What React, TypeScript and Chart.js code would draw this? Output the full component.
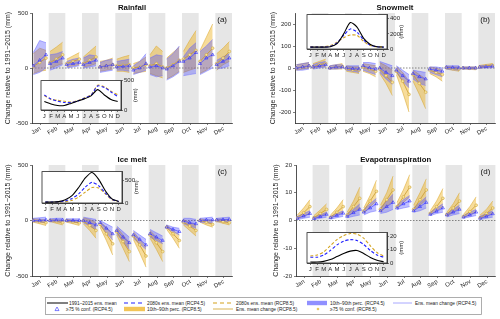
import React, { useEffect, useRef } from "react";
import { Chart, registerables } from "chart.js";
Chart.register(...registerables);

const FONT = 'Arial, "Liberation Sans", Helvetica, sans-serif';
Chart.defaults.font.family = FONT;
Chart.defaults.color = "#262626";

const months = ["Jan", "Feb", "Mar", "Apr", "May", "Jun", "Jul", "Aug", "Sep", "Oct", "Nov", "Dec"];
const insetLabels = ["J", "F", "M", "A", "M", "J", "J", "A", "S", "O", "N", "D"];
const yTitle = "Change relative to 1991\u22122015 (mm)";

// ---------- Rainfall (mm), per month: [early, mid, late] ----------
const rain45Lo = [[-60, -40, 0], [-20, 0, 30], [0, 10, 20], [0, 10, 20], [-40, -30, -20], [-20, -20, -30], [-60, -40, -20], [-60, -80, -70], [-110, -80, -40], [-70, -60, -50], [-60, -30, 0], [-10, 0, 20]];
const rain45Hi = [[140, 250, 230], [120, 130, 150], [60, 80, 90], [90, 120, 110], [50, 70, 80], [60, 70, 80], [20, 60, 130], [90, 120, 110], [80, 130, 200], [100, 180, 230], [150, 200, 260], [70, 100, 130]];
const rain45Mean = [[20, 70, 120], [40, 60, 90], [30, 40, 50], [30, 50, 70], [10, 20, 30], [10, 15, 20], [-20, 0, 40], [10, 20, 0], [-10, 20, 60], [60, 90, 140], [40, 90, 120], [30, 60, 90]];
const rain85Lo = [[-50, -30, -20], [0, 20, 40], [10, 20, 30], [10, 20, 40], [-30, -20, -10], [-30, -30, -40], [-50, -40, -30], [-50, -70, -90], [-100, -70, -30], [-40, -20, 0], [-50, -20, 30], [-20, 30, 60]];
const rain85Hi = [[130, 180, 160], [150, 190, 235], [80, 110, 140], [100, 150, 200], [60, 70, 90], [80, 100, 115], [40, 60, 100], [120, 200, 150], [90, 140, 190], [150, 250, 340], [160, 280, 400], [130, 180, 240]];
const rain85Mean = [[15, 50, 90], [50, 80, 120], [40, 60, 80], [40, 70, 100], [10, 20, 30], [20, 25, 30], [0, 10, 30], [20, 40, 10], [0, 30, 70], [80, 120, 160], [60, 120, 180], [40, 90, 150]];
const rainBase = [143, 102, 77, 77, 112, 153, 189, 240, 347, 255, 179, 143];
const rainFut45 = [255, 189, 150, 128, 128, 153, 200, 250, 408, 383, 306, 230];
const rainFut85 = [245, 180, 165, 150, 135, 160, 205, 255, 420, 395, 320, 260];

// ---------- Snowmelt ----------
const snow45Lo = [[-10, -10, -5], [-5, 0, 5], [-5, -5, 0], [-10, -15, -20], [-10, -20, -30], [-20, -50, -75], [-20, -60, -90], [-50, -70, -80], [-20, -30, -40], [-5, -8, -10], [-5, -5, -5], [0, 0, 0]];
const snow45Hi = [[15, 20, 25], [15, 25, 30], [10, 15, 15], [10, 10, 10], [25, 25, 20], [30, 20, 10], [10, -10, -30], [-10, -15, -20], [5, 5, 0], [10, 10, 10], [5, 5, 5], [10, 12, 15]];
const snow45Mean = [[0, 5, 10], [5, 10, 15], [0, 5, 5], [0, -3, -5], [10, 0, -5], [0, -20, -35], [-10, -35, -60], [-25, -40, -50], [-5, -10, -15], [3, 2, 0], [0, 0, 0], [4, 6, 8]];
const snow85Lo = [[-10, -5, 0], [0, 5, 5], [-5, -5, -5], [-15, -20, -25], [-15, -25, -40], [-25, -70, -125], [-30, -110, -200], [-60, -120, -185], [-25, -40, -60], [-5, -10, -15], [-5, -6, -8], [0, 2, 3]];
const snow85Hi = [[15, 20, 25], [20, 30, 40], [10, 15, 20], [10, 5, 5], [20, 15, 10], [25, 10, -10], [5, -20, -60], [-10, -30, -50], [5, 0, -10], [8, 5, 5], [5, 5, 5], [12, 16, 20]];
const snow85Mean = [[0, 5, 10], [5, 15, 20], [0, 5, 8], [-3, -8, -10], [5, -5, -15], [-5, -35, -65], [-15, -60, -120], [-30, -70, -110], [-10, -20, -30], [2, -2, -5], [0, -1, -1], [5, 9, 13]];
const snowBase = [25, 25, 25, 30, 70, 200, 350, 290, 140, 60, 30, 25];
const snowFut45 = [25, 25, 25, 35, 80, 180, 265, 225, 120, 50, 30, 25];
const snowFut85 = [30, 30, 30, 45, 90, 150, 185, 180, 100, 45, 30, 28];

// ---------- Ice melt ----------
const ice45Lo = [[-10, -15, -20], [-10, -12, -15], [-10, -15, -20], [-20, -50, -80], [-40, -110, -175], [-120, -190, -260], [-160, -210, -260], [-150, -180, -210], [-70, -100, -130], [-30, -50, -70], [-15, -20, -25], [-10, -10, -10]];
const ice45Hi = [[20, 25, 30], [15, 20, 20], [15, 15, 15], [30, 20, 10], [0, -30, -60], [-50, -100, -150], [-90, -130, -170], [-80, -110, -140], [-40, -60, -70], [20, 20, 10], [20, 25, 30], [20, 25, 30]];
const ice45Mean = [[0, 0, 5], [0, 3, 5], [0, 0, 0], [0, -20, -40], [-20, -70, -120], [-90, -150, -200], [-130, -170, -220], [-120, -150, -180], [-60, -80, -100], [-5, -20, -30], [0, 5, 5], [5, 8, 10]];
const ice85Lo = [[-15, -30, -45], [-10, -25, -40], [-15, -30, -45], [-30, -90, -160], [-60, -180, -310], [-130, -250, -370], [-170, -290, -420], [-160, -260, -370], [-80, -160, -250], [-40, -90, -140], [-15, -40, -60], [-10, -25, -40]];
const ice85Hi = [[15, 10, 5], [10, 5, 0], [10, 5, 0], [25, 10, -20], [-10, -60, -120], [-60, -130, -200], [-100, -170, -240], [-90, -150, -210], [-40, -90, -130], [10, -20, -40], [15, 5, 0], [15, 10, 5]];
const ice85Mean = [[0, -10, -20], [0, -8, -18], [-2, -12, -22], [-5, -45, -90], [-35, -120, -210], [-100, -190, -280], [-140, -220, -320], [-130, -200, -280], [-60, -120, -180], [-15, -50, -90], [0, -15, -35], [0, -10, -20]];
const iceBase = [20, 20, 30, 70, 160, 340, 550, 670, 520, 270, 90, 35];
const iceFut45 = [20, 20, 25, 45, 100, 200, 350, 455, 380, 220, 80, 35];
const iceFut85 = [15, 15, 20, 30, 60, 130, 240, 340, 330, 200, 70, 30];

// ---------- Evapotranspiration ----------
const et45Lo = [[0.3, 0.8, 1.2], [0.3, 0.8, 1.2], [0.5, 1, 1.5], [1, 1.5, 2], [2, 3, 3.5], [2.5, 3, 4], [4, 4.5, 5], [3, 3.5, 4.5], [1.8, 2.5, 3], [1.3, 2, 2.5], [0.8, 1.3, 1.8], [0.4, 0.8, 1.2]];
const et45Hi = [[1.5, 2.5, 3.5], [1.2, 2, 3], [1.5, 2.5, 3.5], [2.5, 4, 6], [4, 6, 8], [4.5, 7, 9.5], [5.5, 7.5, 9], [4.5, 6.5, 8.5], [3, 4.5, 6], [2.5, 4, 5.5], [1.8, 3, 4], [1.5, 2.5, 3.5]];
const et45Mean = [[0.8, 1.6, 2.5], [0.7, 1.4, 2.2], [1, 1.8, 2.6], [1.5, 2.8, 4], [3, 4.5, 6], [3.5, 5, 6.5], [4.5, 6, 7], [3.5, 5, 6.5], [2.2, 3.3, 4.5], [2, 3, 4], [1.2, 2, 3], [0.8, 1.5, 2.4]];
const et85Lo = [[0.5, 1.5, 2.5], [0.5, 1.5, 2.5], [0.8, 2, 3], [1.5, 3, 4.5], [2.5, 5, 7], [3, 5, 7], [4.5, 6.5, 8.5], [3.5, 5.5, 7.5], [2, 3.5, 5], [1.5, 3, 4.5], [1, 2, 3], [0.6, 1.5, 2.5]];
const et85Hi = [[2, 4.5, 7.5], [1.8, 3.8, 6], [2, 4.5, 7.5], [3, 7, 12], [4.5, 9, 14.5], [5.5, 10, 16], [6.5, 11, 16.5], [5.5, 10, 15], [3.5, 7, 11.5], [3, 6, 10], [2.2, 5, 8.5], [2, 4, 7]];
const et85Mean = [[1, 2.8, 5], [1, 2.5, 4], [1.2, 3, 5], [2, 5, 8], [3.5, 7, 10.5], [4, 7.5, 11], [5, 8.5, 12], [4, 7.5, 11], [2.6, 5, 8], [2.2, 4.5, 7], [1.5, 3.2, 5.5], [1, 2.5, 4.5]];
const etBase = [0.7, 0.7, 1.2, 2.6, 4.9, 7.2, 9, 9.5, 7.2, 4.2, 2.1, 0.9];
const etFut45 = [4.4, 4.4, 6, 9.5, 13.7, 16.5, 17.7, 17, 14, 9.5, 6, 4.4];
const etFut85 = [5.3, 6, 8.4, 13, 17.7, 20.7, 22.3, 21.8, 18.8, 13, 7.9, 5.3];

// ---------- styling ----------
const X_FRAC = [0.08, 0.46, 0.84];
const Y_FILL = "rgba(237,177,32,0.45)";
const Y_EDGE = "rgba(214,166,50,0.9)";
const B_FILL = "rgba(70,70,255,0.35)";
const B_EDGE = "rgba(120,120,255,0.9)";
const GREY = "#e6e6e6";
const AX = "#262626";

const pts = (arr: number[][], m: number) => arr[m].map((v, k) => ({ x: m + X_FRAC[k], y: v }));

function mainConfig(p: any) {
  const datasets: any[] = [];
  for (let m = 0; m < 12; m++) {
    datasets.push({ data: pts(p.lo85, m), fill: "+1", backgroundColor: Y_FILL, borderColor: Y_EDGE, borderWidth: 0.6, pointRadius: 0, order: 4 });
    datasets.push({ data: pts(p.hi85, m), fill: false, borderColor: Y_EDGE, borderWidth: 0.6, pointRadius: 0, order: 4 });
  }
  for (let m = 0; m < 12; m++) {
    datasets.push({ data: pts(p.lo45, m), fill: "+1", backgroundColor: B_FILL, borderColor: B_EDGE, borderWidth: 0.6, pointRadius: 0, order: 3 });
    datasets.push({ data: pts(p.hi45, m), fill: false, borderColor: B_EDGE, borderWidth: 0.6, pointRadius: 0, order: 3 });
  }
  for (let m = 0; m < 12; m++) {
    datasets.push({ data: pts(p.mean85, m), fill: false, borderColor: "#c99a2e", borderWidth: 0.8, pointStyle: "circle", pointRadius: 1.4, pointBorderWidth: 0.5, pointBorderColor: "#c99a2e", pointBackgroundColor: "#f6e39a", order: 2 });
    datasets.push({ data: pts(p.mean45, m), fill: false, borderColor: "#5b5bff", borderWidth: 0.8, pointStyle: "triangle", pointRadius: 1.8, pointBorderWidth: 0.6, pointBorderColor: "#2a2aff", pointBackgroundColor: "rgba(0,0,0,0)", order: 1 });
  }
  const deco = {
    id: "deco",
    beforeDraw(chart: any) {
      const { ctx, chartArea: a, scales } = chart;
      const x = scales.x;
      ctx.save();
      ctx.fillStyle = GREY;
      for (let m = 1; m < 12; m += 2) {
        const x0 = x.getPixelForValue(m);
        const x1 = x.getPixelForValue(m + 1);
        ctx.fillRect(x0, a.top, x1 - x0, a.bottom - a.top);
      }
      ctx.restore();
    },
    beforeDatasetsDraw(chart: any) {
      const { ctx, chartArea: a, scales } = chart;
      const y0 = scales.y.getPixelForValue(0);
      ctx.save();
      ctx.strokeStyle = "#555";
      ctx.lineWidth = 0.7;
      ctx.setLineDash([1.5, 1.5]);
      ctx.beginPath();
      ctx.moveTo(a.left, y0);
      ctx.lineTo(a.right, y0);
      ctx.stroke();
      ctx.restore();
    },
    afterDraw(chart: any) {
      const { ctx, chartArea: a } = chart;
      ctx.save();
      ctx.fillStyle = "#111";
      ctx.font = `bold 7.8px ${FONT}`;
      ctx.textAlign = "center";
      ctx.textBaseline = "middle";
      ctx.fillText(p.title, (a.left + a.right) / 2, a.top - 5);
      ctx.font = `8px ${FONT}`;
      ctx.textAlign = "right";
      ctx.fillText(p.letter, a.right - 5, a.top + 7);
      ctx.restore();
    },
  };
  return {
    type: "line",
    data: { datasets },
    options: {
      responsive: false,
      animation: false,
      devicePixelRatio: 1,
      layout: { padding: { left: p.padLeft, right: p.padRight, top: p.padTop, bottom: 0 } },
      elements: { line: { tension: 0 } },
      plugins: { legend: { display: false }, tooltip: { enabled: false } },
      scales: {
        x: {
          type: "linear",
          min: 0,
          max: 12,
          afterBuildTicks: (s: any) => {
            s.ticks = months.map((_, i) => ({ value: i + 0.5 }));
          },
          afterFit: (s: any) => {
            s.height = 17;
          },
          ticks: { autoSkip: false, minRotation: 30, maxRotation: 30, font: { size: 6 }, color: AX, padding: 0, callback: (_v: any, i: number) => months[i] },
          grid: { drawOnChartArea: false, tickLength: 2, color: AX, lineWidth: 0.6 },
          border: { color: AX, width: 0.8 },
        },
        y: {
          min: p.yMin,
          max: p.yMax,
          afterBuildTicks: (s: any) => {
            s.ticks = p.yTicks.map((v: number) => ({ value: v }));
          },
          afterFit: (s: any) => {
            s.width = p.yWidth;
          },
          ticks: { font: { size: 6 }, color: AX, padding: 2 },
          grid: { drawOnChartArea: false, tickLength: 2, color: AX, lineWidth: 0.6 },
          border: { color: AX, width: 0.8 },
          title: { display: true, text: yTitle, font: { size: 7 }, color: AX, padding: { top: 3.8, bottom: 0 } },
        },
      },
    },
    plugins: [deco],
  };
}

function insetConfig(p: any) {
  const x = (arr: number[]) => arr.map((v, i) => ({ x: i + 1, y: v }));
  const deco = {
    id: "insetDeco",
    beforeDraw(chart: any) {
      const { ctx, chartArea: a } = chart;
      ctx.save();
      ctx.fillStyle = "#fff";
      ctx.fillRect(a.left, a.top, a.right - a.left, a.bottom - a.top);
      ctx.restore();
    },
    afterDraw(chart: any) {
      const { ctx, chartArea: a } = chart;
      ctx.save();
      ctx.strokeStyle = AX;
      ctx.lineWidth = 0.8;
      ctx.strokeRect(a.left, a.top, a.right - a.left, a.bottom - a.top);
      ctx.fillStyle = AX;
      ctx.font = `6px ${FONT}`;
      ctx.textAlign = "center";
      ctx.textBaseline = "middle";
      ctx.translate(a.right + 14, (a.top + a.bottom) / 2);
      ctx.rotate(-Math.PI / 2);
      ctx.fillText("(mm)", 0, 0);
      ctx.restore();
    },
  };
  return {
    type: "line",
    data: {
      datasets: [
        { data: x(p.base), borderColor: "#000", borderWidth: 1.1, pointRadius: 0, fill: false, order: 1 },
        { data: x(p.f45), borderColor: "#2020ff", borderWidth: 1.1, borderDash: [3, 2], pointRadius: 0, fill: false, order: 2 },
        { data: x(p.f85), borderColor: "#d3a21c", borderWidth: 1.1, borderDash: [3, 2], pointRadius: 0, fill: false, order: 3 },
      ],
    },
    options: {
      responsive: false,
      animation: false,
      devicePixelRatio: 1,
      layout: { padding: { left: 3, right: 2, top: 3, bottom: 0 } },
      elements: { line: { tension: 0.25 } },
      plugins: { legend: { display: false }, tooltip: { enabled: false } },
      scales: {
        x: {
          type: "linear",
          min: 0.5,
          max: 12.5,
          afterBuildTicks: (s: any) => {
            s.ticks = insetLabels.map((_, i) => ({ value: i + 1 }));
          },
          afterFit: (s: any) => {
            s.height = 11;
          },
          ticks: { autoSkip: false, minRotation: 0, maxRotation: 0, font: { size: 6 }, color: AX, padding: 1, callback: (_v: any, i: number) => insetLabels[i] },
          grid: { drawOnChartArea: false, tickLength: 2, color: AX, lineWidth: 0.6 },
          border: { color: AX, width: 0.8 },
        },
        y: {
          position: "right",
          min: 0,
          max: p.yMax,
          afterBuildTicks: (s: any) => {
            s.ticks = p.yTicks.map((v: number) => ({ value: v }));
          },
          afterFit: (s: any) => {
            s.width = 18;
          },
          ticks: { font: { size: 6 }, color: AX, padding: 1 },
          grid: { drawOnChartArea: false, tickLength: 2, color: AX, lineWidth: 0.6 },
          border: { color: AX, width: 0.8 },
        },
      },
    },
    plugins: [deco],
  };
}

function ChartCanvas({ left, top, width, height, z, make }: any) {
  const ref = useRef<HTMLCanvasElement>(null);
  useEffect(() => {
    const chart = new Chart(ref.current as HTMLCanvasElement, make());
    return () => chart.destroy();
  }, []);
  return <canvas ref={ref} width={width} height={height} style={{ position: "absolute", left, top, width, height, zIndex: z }} />;
}

const panels = [
  {
    title: "Rainfall", letter: "(a)", lo45: rain45Lo, hi45: rain45Hi, mean45: rain45Mean, lo85: rain85Lo, hi85: rain85Hi, mean85: rain85Mean,
    yMin: -500, yMax: 500, yTicks: [-500, 0, 500], padLeft: 0, padRight: 13, padTop: 13, yWidth: 32,
    box: { left: 0, top: 0, width: 245, height: 140 },
    inset: { base: rainBase, f45: rainFut45, f85: rainFut85, yMax: 500, yTicks: [0, 500], boxLeft: 41, boxTop: 79, boxW: 80, boxH: 31 },
  },
  {
    title: "Snowmelt", letter: "(b)", lo45: snow45Lo, hi45: snow45Hi, mean45: snow45Mean, lo85: snow85Lo, hi85: snow85Hi, mean85: snow85Mean,
    yMin: -250, yMax: 250, yTicks: [-200, -100, 0, 100, 200], padLeft: 15.5, padRight: 5, padTop: 13, yWidth: 29.5,
    box: { left: 250, top: 0, width: 250, height: 140 },
    inset: { base: snowBase, f45: snowFut45, f85: snowFut85, yMax: 455, yTicks: [0, 200, 400], boxLeft: 307, boxTop: 13, boxW: 80, boxH: 36 },
  },
  {
    title: "Ice melt", letter: "(c)", lo45: ice45Lo, hi45: ice45Hi, mean45: ice45Mean, lo85: ice85Lo, hi85: ice85Hi, mean85: ice85Mean,
    yMin: -500, yMax: 500, yTicks: [-500, 0, 500], padLeft: 0, padRight: 13, padTop: 25, yWidth: 32,
    box: { left: 0, top: 140, width: 245, height: 153 },
    inset: { base: iceBase, f45: iceFut45, f85: iceFut85, yMax: 690, yTicks: [0, 500], boxLeft: 42, boxTop: 170, boxW: 80, boxH: 33 },
  },
  {
    title: "Evapotranspiration", letter: "(d)", lo45: et45Lo, hi45: et45Hi, mean45: et45Mean, lo85: et85Lo, hi85: et85Hi, mean85: et85Mean,
    yMin: -20, yMax: 20, yTicks: [-20, -10, 0, 10, 20], padLeft: 18.5, padRight: 4, padTop: 25, yWidth: 27.5,
    box: { left: 250, top: 140, width: 250, height: 153 },
    inset: { base: etBase, f45: etFut45, f85: etFut85, yMax: 23, yTicks: [0, 10, 20], boxLeft: 307, boxTop: 231, boxW: 80, boxH: 32 },
  },
];

const legendItems = [
  { row: 0, kind: "line", color: "#000", x0: 47, x1: 68, tx: 69, text: "1991\u20132015 ens. mean" },
  { row: 0, kind: "dash", color: "#2020ff", x0: 124, x1: 145, tx: 147, text: "2080s ens. mean (RCP4.5)" },
  { row: 0, kind: "dash", color: "#d3a21c", x0: 213, x1: 233, tx: 236, text: "2080s ens. mean (RCP8.5)" },
  { row: 0, kind: "patch", color: "rgba(70,70,255,0.6)", x0: 307, x1: 327, tx: 330, text: "10th\u201390th perc. (RCP4.5)" },
  { row: 0, kind: "line", color: "#a8a8ff", x0: 393, x1: 412, tx: 415, text: "Ens. mean change (RCP4.5)" },
  { row: 1, kind: "tri", color: "#2a2aff", x0: 54, x1: 60, tx: 66, text: "\u226575 % conf. (RCP4.5)" },
  { row: 1, kind: "patch", color: "rgba(237,177,32,0.75)", x0: 124, x1: 145, tx: 147, text: "10th\u201390th perc. (RCP8.5)" },
  { row: 1, kind: "line", color: "#d9b452", x0: 213, x1: 233, tx: 236, text: "Ens. mean change (RCP8.5)" },
  { row: 1, kind: "dot", color: "#e8c860", x0: 315, x1: 321, tx: 330, text: "\u226575 % conf. (RCP8.5)" },
];

function Legend() {
  const L = 45, T = 297, W = 437, H = 18;
  const rowY = [6, 12];
  return (
    <svg width={W} height={H} style={{ position: "absolute", left: L, top: T, zIndex: 3 }}>
      <rect x={0.5} y={0.5} width={W - 1} height={H - 1} fill="#fff" stroke="#9a9a9a" strokeWidth={0.8} />
      {legendItems.map((it, i) => {
        const y = rowY[it.row];
        const x0 = it.x0 - L, x1 = it.x1 - L;
        if (it.kind === "line") return <line key={i} x1={x0} x2={x1} y1={y} y2={y} stroke={it.color} strokeWidth={1} />;
        if (it.kind === "dash") return <line key={i} x1={x0} x2={x1} y1={y} y2={y} stroke={it.color} strokeWidth={1.2} strokeDasharray="4,3" />;
        if (it.kind === "patch") return <rect key={i} x={x0} y={y - 2.2} width={x1 - x0} height={4.4} fill={it.color} />;
        const cx = (x0 + x1) / 2;
        if (it.kind === "tri") return <polygon key={i} points={`${cx},${y - 2} ${cx - 2},${y + 1.6} ${cx + 2},${y + 1.6}`} fill="none" stroke={it.color} strokeWidth={0.6} />;
        return <circle key={i} cx={cx} cy={y} r={1.3} fill={it.color} />;
      })}
      {legendItems.map((it, i) => (
        <text key={"t" + i} x={it.tx - L} y={rowY[it.row]} dominantBaseline="central" fontFamily={FONT} fontSize={4.8} fill="#222">
          {it.text}
        </text>
      ))}
    </svg>
  );
}

export default function App() {
  return (
    <div style={{ position: "absolute", left: 0, top: 0, width: 500, height: 319, background: "#fff", overflow: "hidden" }}>
      {panels.map((p, i) => (
        <ChartCanvas key={"m" + i} left={p.box.left} top={p.box.top} width={p.box.width} height={p.box.height} z={1} make={() => mainConfig(p)} />
      ))}
      {panels.map((p, i) => {
        const s = p.inset;
        return (
          <ChartCanvas key={"i" + i} left={s.boxLeft - 3} top={s.boxTop - 3} width={s.boxW + 3 + 18 + 2} height={s.boxH + 3 + 11} z={2} make={() => insetConfig(s)} />
        );
      })}
      <Legend />
    </div>
  );
}
